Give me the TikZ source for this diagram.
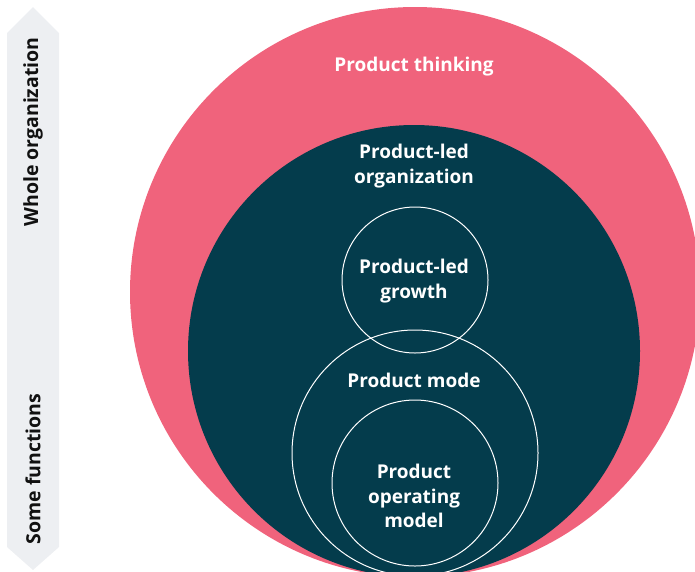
\documentclass[tikz,border=0pt]{standalone}
\usepackage{fontspec}
\setmainfont{Open Sans}
\definecolor{pinkc}{HTML}{F0637C}
\definecolor{tealc}{HTML}{043C4C}
\definecolor{barc}{HTML}{EDEFF2}
\definecolor{inkc}{HTML}{111111}
\begin{document}
\begin{tikzpicture}[x=1pt,y=-1pt,
  lbl/.style={text=white,font=\bfseries\fontsize{19}{24.5}\selectfont,align=center,inner sep=0pt},
  side/.style={text=inkc,font=\bfseries\fontsize{19.5}{20}\selectfont,rotate=90,inner sep=0pt},
  ring/.style={draw=white,line width=1pt}]
\useasboundingbox (0,0) rectangle (695,571);
\clip (0,0) rectangle (695,571);
% side arrow bar
\fill[barc] (7,33) -- (33,7) -- (59,33) -- (59,547) -- (33,570) -- (7,547) -- cycle;
\node[side] (whole) at (33,132) {Whole organization};
\node[side] (some) at (33,469) {Some functions};
% circles
\fill[pinkc] (415,292) circle[radius=285];
\fill[tealc] (414,351) circle[radius=226];
\draw[ring] (415,280) circle[radius=73];
\draw[ring] (415,453) circle[radius=123];
\draw[ring] (415,483) circle[radius=83];
% labels
\node[lbl] (thinking) at (414,67) {Product thinking};
\node[lbl] (org) at (414,166) {Product-led\\organization};
\node[lbl] (growth) at (414,281) {Product-led\\growth};
\node[lbl] (mode) at (414,380) {Product mode};
\node[lbl] (pom) at (414,496) {Product\\operating\\model};
\end{tikzpicture}
\end{document}
